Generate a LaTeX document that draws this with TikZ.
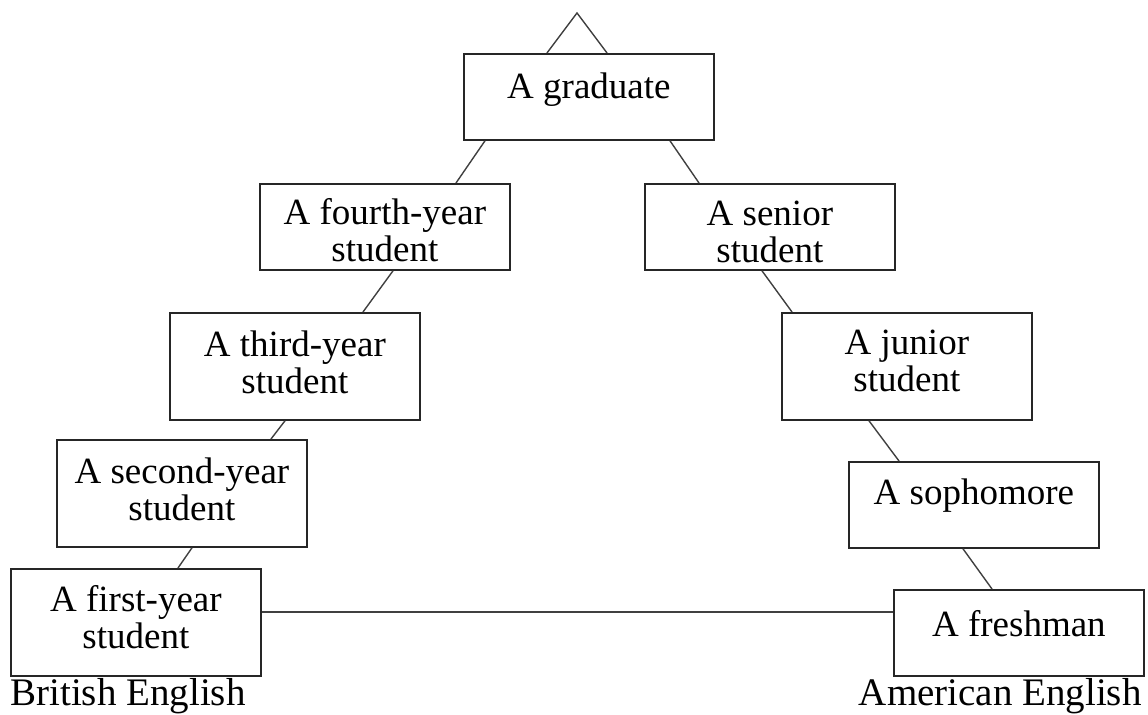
\documentclass[tikz,border=0pt]{standalone}
\usepackage{fontspec}
\setmainfont{Liberation Serif}
\usetikzlibrary{positioning,calc}

\begin{document}
\begin{tikzpicture}[
    x=0.5pt, y=-0.5pt,
    yrbox/.style={
      draw=black!85, line width=0.9pt,
      fill=white,
      minimum width=125pt,
      inner sep=0pt,
      anchor=north west
    },
    yrshort/.style={minimum height=43pt},
    yrtall/.style={minimum height=53.5pt},
    yrtext/.style={align=center, inner sep=0pt, font=\fontsize{18.5}{18.5}\selectfont},
    lang/.style={inner sep=0pt, font=\fontsize{19.5}{19.5}\selectfont},
    conn/.style={line width=0.7pt, draw=black!75}
  ]

  \useasboundingbox (0,0) rectangle (1148,715);

  % Boxes
  \node[yrbox, yrshort] (grad)   at (463,53)  {};
  \node[yrbox, yrshort] (four)   at (259,183) {};
  \node[yrbox, yrshort] (senior) at (644,183) {};
  \node[yrbox, yrtall]  (third)  at (169,312) {};
  \node[yrbox, yrtall]  (junior) at (781,312) {};
  \node[yrbox, yrtall]  (second) at (56,439)  {};
  \node[yrbox, yrshort] (soph)   at (848,461) {};
  \node[yrbox, yrtall]  (first)  at (10,568)  {};
  \node[yrbox, yrshort] (fresh)  at (893,589) {};

  % Texts, set at the top of each box
  \node[yrtext, below=9.5pt of grad.north]   (gradt)   {A graduate};
  \node[yrtext, below=7.5pt of four.north]   (fourt)   {A fourth-year\\student};
  \node[yrtext, below=9pt of senior.north]   (seniort) {A senior\\student};
  \node[yrtext, below=9pt of third.north]    (thirdt)  {A third-year\\student};
  \node[yrtext, below=9pt of junior.north]   (juniort) {A junior\\student};
  \node[yrtext, below=9pt of second.north]   (secondt) {A second-year\\student};
  \node[yrtext, below=8.5pt of soph.north]   (sopht)   {A sophomore};
  \node[yrtext, below=8.5pt of first.north]  (firstt)  {A first-year\\student};
  \node[yrtext, below=10.5pt of fresh.north] (fresht)  {A freshman};

  \node[lang, anchor=base west] (brit) at (10,706)   {British English};
  \node[lang, anchor=base east] (amer) at (1142,706) {American English};

  % Roof on top of the graduate box
  \draw[conn] ([xshift=42pt]grad.north west) -- ++(30,-40) -- ++(30,40);

  % Left side
  \draw[conn] ([xshift=11pt]grad.south west)   -- ([xshift=98.5pt]four.north west);
  \draw[conn] ([xshift=67pt]four.south west)   -- ([xshift=97pt]third.north west);
  \draw[conn] ([xshift=58pt]third.south west)  -- ([xshift=107.5pt]second.north west);
  \draw[conn] ([xshift=68pt]second.south west) -- ([xshift=84pt]first.north west);

  % Right side
  \draw[conn] ([xshift=103.5pt]grad.south west) -- ([xshift=27.5pt]senior.north west);
  \draw[conn] ([xshift=59pt]senior.south west)  -- ([xshift=5.5pt]junior.north west);
  \draw[conn] ([xshift=44pt]junior.south west)  -- ([xshift=25.5pt]soph.north west);
  \draw[conn] ([xshift=57.5pt]soph.south west)  -- ([xshift=49.5pt]fresh.north west);

  % Base
  \coordinate (base) at ([yshift=5.25pt]first.east);
  \draw[conn] (base) -- (base -| fresh.west);

\end{tikzpicture}
\end{document}
